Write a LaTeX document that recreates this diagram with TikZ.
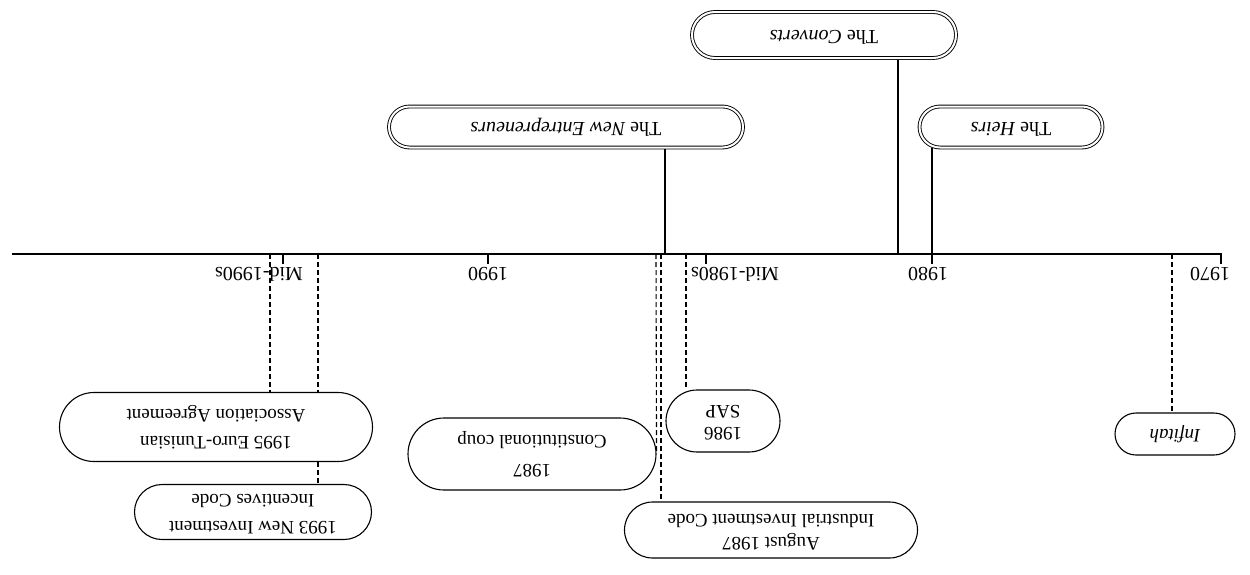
\documentclass[tikz,border=0pt]{standalone}
\usepackage{fontspec}
\setmainfont{Liberation Serif}
\usepackage{graphicx}
\usetikzlibrary{shapes.misc}
\pgfdeclarelayer{bg}
\pgfsetlayers{bg,main}
\newcommand{\ud}[1]{\rotatebox[origin=c]{180}{\begin{tabular}{@{}c@{}}#1\end{tabular}}}
\begin{document}
\begin{tikzpicture}[x=1pt,y=-1pt,
  every node/.style={font=\fontsize{19}{22}\selectfont},
  ev/.style={draw, line width=1.1pt, rounded rectangle, fill=white, inner sep=0pt},
  grp/.style={ev, double, double distance=2pt, line width=0.9pt, font=\fontsize{20}{23}\selectfont},
  dash line/.style={dash pattern=on 5pt off 3pt, line width=1.1pt},
  link/.style={line width=1.4pt},
  tickmark/.style={line width=1.4pt},
  ticklabel/.style={inner sep=0pt, font=\fontsize{20}{23}\selectfont}]
\useasboundingbox (0,0) rectangle (1250,574);

% axis
\coordinate (L) at (12,254);
\coordinate (R) at (1222,254);
\draw[line width=1.4pt] (L) -- (R);

% ticks
\coordinate (t70) at (1221,254);
\coordinate (t80) at (932,254);
\coordinate (tm80) at (706,254);
\coordinate (t90) at (488,254);
\coordinate (tm90) at (283,254);
\foreach \t in {t70,t80,tm80,t90,tm90}{
  \draw[tickmark] (\t) -- ++(0,10);
}
\node[ticklabel] (l70) at (1210,272) {\ud{1970}};
\node[ticklabel] (l80) at (928,272) {\ud{1980}};
\node[ticklabel] (lm80) at (735,272) {\ud{Mid-1980s}};
\node[ticklabel] (l90) at (488,272) {\ud{1990}};
\node[ticklabel] (lm90) at (259,272) {\ud{Mid-1990s}};

% lower event boxes
\node[ev, minimum width=120, minimum height=42] (infitah) at (1175,434) {\ud{\itshape Infitah}};
\node[ev, minimum width=114, minimum height=62] (sap) at (723,421) {\ud{1986\\SAP}};
\node[ev, minimum width=293, minimum height=56] (aug) at (771,530) {\ud{August 1987\\[1pt]Industrial Investment Code}};
\node[ev, minimum width=248, minimum height=72] (coup) at (532,454) {\ud{1987\\[7pt]Constitutional coup}};
\node[ev, minimum width=313, minimum height=69] (euro) at (216,427) {\ud{1995 Euro-Tunisian\\[5pt]Association Agreement}};
\node[ev, minimum width=237, minimum height=55] (nic) at (253,512) {\ud{1993 New Investment\\[5pt]Incentives Code}};

% upper group boxes
\node[grp, minimum width=354, minimum height=41] (newent) at (566,127) {\ud{The \textit{New Entrepreneurs}}};
\node[grp, minimum width=264, minimum height=46] (converts) at (824,35) {\ud{The \textit{Converts}}};
\node[grp, minimum width=183, minimum height=41] (heirs) at (1011,127) {\ud{The \textit{Heirs}}};

% connector anchors on the axis
\coordinate (a1) at (1172,254);
\coordinate (a2) at (686,254);
\coordinate (a3) at (656,254);
\coordinate (a4) at (661,254);
\coordinate (a5) at (270,254);
\coordinate (a6) at (318,254);
\coordinate (s1) at (665,254);
\coordinate (s2) at (898,254);
\coordinate (s3) at (932,254);

\begin{pgfonlayer}{bg}
\draw[dash line] (a1) -- (a1 |- infitah.north);
\draw[dash line] (a2) -- (a2 |- sap.north);
\draw[dash line] (a3) -- (coup.east);
\draw[dash line] (a4) -- (a4 |- aug.north);
\draw[dash line] (a5) -- (a5 |- euro.north);
\draw[dash line] (a6) -- (a6 |- nic.north);
\draw[link] (s1 |- newent.south) -- (s1);
\draw[link] (s2 |- converts.south) -- (s2);
\draw[link] (s3 |- heirs.south) -- (s3);
\end{pgfonlayer}
\end{tikzpicture}
\end{document}
